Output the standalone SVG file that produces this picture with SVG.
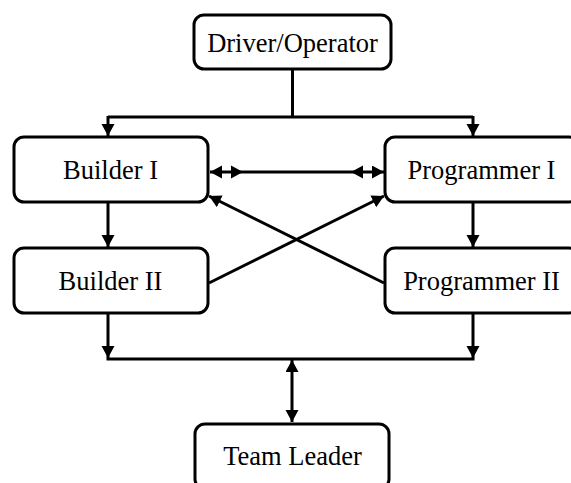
<svg xmlns="http://www.w3.org/2000/svg" width="571" height="483" viewBox="0 0 571 483">
<style>
.box{fill:#fff;stroke:#000;stroke-width:3}
.lbl{font-family:"Liberation Serif","Times New Roman",serif;font-size:26.5px;fill:#000;text-anchor:middle}
.ln{fill:none;stroke:#000;stroke-width:3}
.ah{fill:#000}
</style>
<defs>
<marker id="arr" markerUnits="userSpaceOnUse" markerWidth="13" markerHeight="14" refX="12" refY="6.5" orient="auto-start-reverse" viewBox="0 0 13 14">
<path d="M0,0 L12,6.5 L0,13 z" fill="#000"/>
</marker>
</defs>
<rect width="571" height="483" fill="#fff"/>
<g id="connectors">
<path class="ln" d="M292.5,69 V117 M108,117 H473"/>
<path class="ln" d="M108,116 V136" marker-end="url(#arr)"/>
<path class="ln" d="M473,116 V136" marker-end="url(#arr)"/>
<path class="ln" d="M108,202 V247" marker-end="url(#arr)"/>
<path class="ln" d="M473,202 V247" marker-end="url(#arr)"/>
<path class="ln" d="M210,172 H384" marker-start="url(#arr)" marker-end="url(#arr)"/>
<polygon class="ah" points="231,165.5 243,172 231,178.5"/>
<polygon class="ah" points="363,165.5 351,172 363,178.5"/>
<path class="ln" d="M209,283 L384,196" marker-end="url(#arr)"/>
<path class="ln" d="M384,283 L209,196" marker-end="url(#arr)"/>
<path class="ln" d="M108,313 V358" marker-end="url(#arr)"/>
<path class="ln" d="M473,313 V358" marker-end="url(#arr)"/>
<path class="ln" d="M106.5,359 H474.5"/>
<path class="ln" d="M292,360 V422" marker-start="url(#arr)" marker-end="url(#arr)"/>
</g>
<g id="driver"><rect class="box" x="194" y="15" width="197" height="54" rx="10"/><text class="lbl" x="292.5" y="52">Driver/Operator</text></g>
<g id="builder1"><rect class="box" x="14" y="137" width="194" height="65" rx="10"/><text class="lbl" x="110.5" y="179">Builder I</text></g>
<g id="builder2"><rect class="box" x="14" y="248" width="194" height="65" rx="10"/><text class="lbl" x="110.5" y="290">Builder II</text></g>
<g id="programmer1"><rect class="box" x="385" y="137" width="194" height="65" rx="10"/><text class="lbl" x="481.5" y="179">Programmer I</text></g>
<g id="programmer2"><rect class="box" x="385" y="248" width="194" height="65" rx="10"/><text class="lbl" x="481.5" y="290">Programmer II</text></g>
<g id="teamleader"><rect class="box" x="195" y="424" width="194" height="65" rx="10"/><text class="lbl" x="292.5" y="465">Team Leader</text></g>
</svg>
